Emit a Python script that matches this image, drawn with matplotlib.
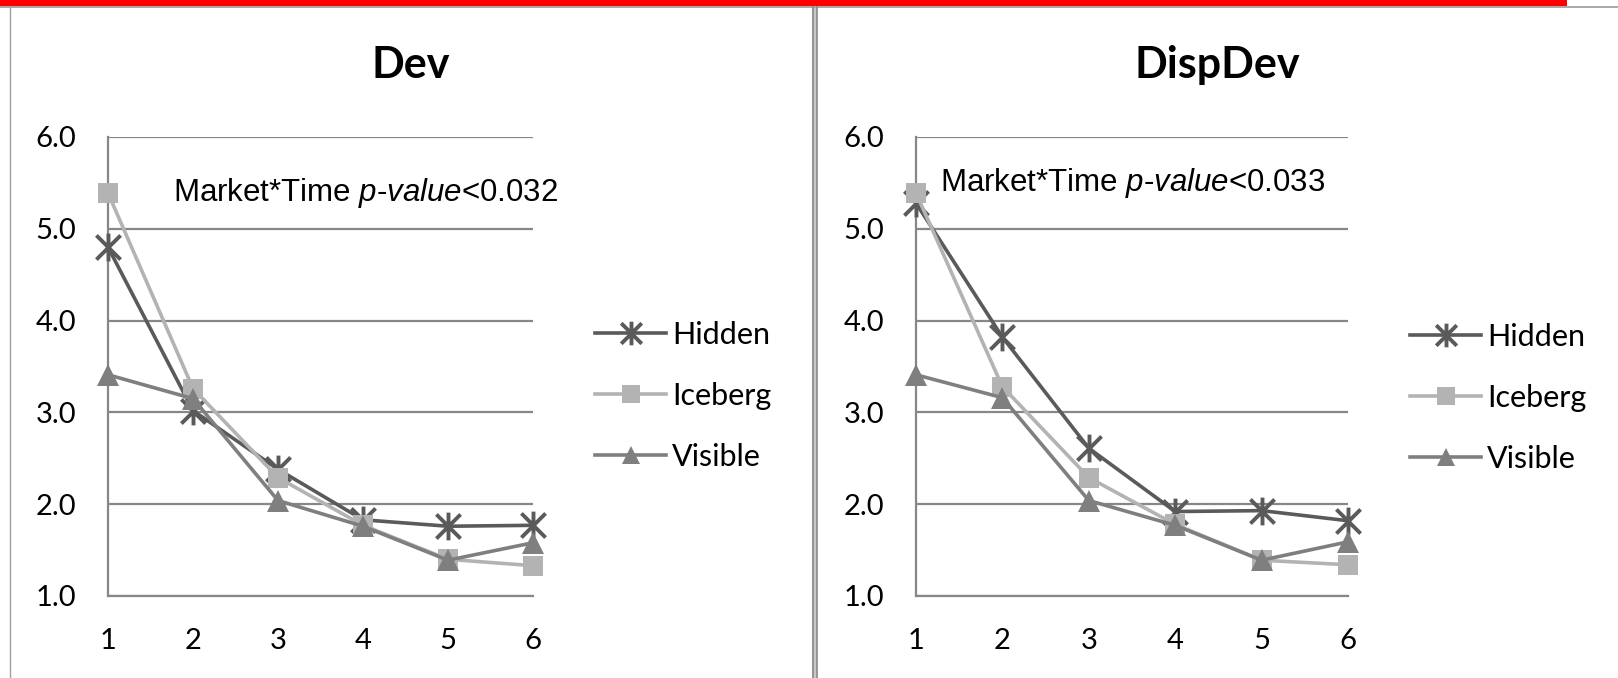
import matplotlib
matplotlib.use("Agg")
import matplotlib.pyplot as plt
from matplotlib.path import Path
from matplotlib.lines import Line2D
from matplotlib.patches import Rectangle

# ---------------- data ----------------
periods = [1, 2, 3, 4, 5, 6]
series_names = ["Hidden", "Iceberg", "Visible"]

dev_hidden = [4.80, 3.02, 2.38, 1.83, 1.76, 1.77]
dev_iceberg = [5.39, 3.26, 2.29, 1.77, 1.40, 1.33]
dev_visible = [3.41, 3.15, 2.04, 1.76, 1.39, 1.58]

disp_hidden = [5.28, 3.82, 2.61, 1.92, 1.93, 1.82]
disp_iceberg = [5.39, 3.28, 2.29, 1.78, 1.39, 1.34]
disp_visible = [3.41, 3.16, 2.04, 1.77, 1.39, 1.59]

y_ticks = [1.0, 2.0, 3.0, 4.0, 5.0, 6.0]
titles = ["Dev", "DispDev"]
p_values = ["0.032", "0.033"]

# ---------------- style ----------------
plt.rcParams["mathtext.fontset"] = "custom"
plt.rcParams["mathtext.rm"] = "Liberation Sans"
plt.rcParams["mathtext.it"] = "Liberation Sans:italic"

W, H = 1618, 678
fig = plt.figure(figsize=(W / 100, H / 100), dpi=100)
fig.patch.set_facecolor("white")

star = Path([(-1, -1), (1, 1), (-1, 1), (1, -1), (0, -1.15), (0, 1.15)],
            [Path.MOVETO, Path.LINETO, Path.MOVETO, Path.LINETO, Path.MOVETO, Path.LINETO])

styles = {
    "Hidden": dict(color="#5a5a5a", marker=star, markersize=20, markeredgewidth=2.8,
                   markerfacecolor="none", markeredgecolor="#5a5a5a"),
    "Iceberg": dict(color="#b3b3b3", marker="s", markersize=15, markeredgewidth=0,
                    markerfacecolor="#b3b3b3"),
    "Visible": dict(color="#7f7f7f", marker="^", markersize=16, markeredgewidth=0,
                    markerfacecolor="#7f7f7f"),
}
grid_color = "#878787"
tick_font = "Lato"

def px_x(x):
    return x / W

def px_y(y):
    return 1 - y / H

panels = [
    dict(rect=(108, 137, 533, 596), data=[dev_hidden, dev_iceberg, dev_visible],
         title=titles[0], title_x=411, pv=p_values[0], ann=(1.76, 5.30),
         leg=(595, 396)),
    dict(rect=(916, 137, 1348, 596), data=[disp_hidden, disp_iceberg, disp_visible],
         title=titles[1], title_x=1217, pv=p_values[1], ann=(1.28, 5.41),
         leg=(1410, 398)),
]

for p in panels:
    x0, y0, x1, y1 = p["rect"]
    ax = fig.add_axes([px_x(x0), px_y(y1), (x1 - x0) / W, (y1 - y0) / H])
    ax.set_xlim(periods[0], periods[-1])
    ax.set_ylim(y_ticks[0], y_ticks[-1])
    ax.set_yticks(y_ticks)
    ax.set_yticklabels([f"{v:.1f}" for v in y_ticks])
    ax.set_xticks(periods)
    ax.set_xticklabels([str(v) for v in periods])
    for s in ["top", "right"]:
        ax.spines[s].set_visible(False)
    for s in ["left", "bottom"]:
        ax.spines[s].set_color(grid_color)
        ax.spines[s].set_linewidth(1.6)
    ax.yaxis.grid(True, color=grid_color, linewidth=1.6)
    ax.set_axisbelow(True)
    ax.tick_params(axis="both", length=0, labelsize=21, labelcolor="black")
    ax.tick_params(axis="y", pad=23)
    ax.tick_params(axis="x", pad=23)
    for lab in ax.get_xticklabels() + ax.get_yticklabels():
        lab.set_fontfamily(tick_font)

    handles = []
    for name, vals in zip(series_names, p["data"]):
        (ln,) = ax.plot(periods, vals, linewidth=2.6, label=name, clip_on=False,
                        zorder=3, **styles[name])
        handles.append(ln)

    ax.text(p["ann"][0], p["ann"][1],
            "Market*Time $\\mathit{p}$-$\\mathit{value}$<" + p["pv"],
            fontsize=22.5, fontfamily="Liberation Sans", va="baseline", ha="left",
            color="black", zorder=5)

    fig.legend(handles=handles, loc="center left",
               bbox_to_anchor=(px_x(p["leg"][0]), px_y(p["leg"][1])),
               bbox_transform=fig.transFigure, frameon=False,
               borderpad=0, borderaxespad=0, handlelength=2.33,
               handletextpad=0.2, labelspacing=1.08, numpoints=1,
               prop=dict(family=tick_font, size=22), markerscale=0.85)

    fig.text(px_x(p["title_x"]), px_y(65), p["title"], fontsize=31,
             fontweight="bold", fontfamily=tick_font, ha="center", va="center")

# ---------------- page decorations ----------------
fig.add_artist(Rectangle((0, px_y(6)), px_x(1567), 6 / H, transform=fig.transFigure,
                         facecolor="#ff0000", edgecolor="none"))
fig.add_artist(Line2D([0, 1], [px_y(6.8), px_y(6.8)], transform=fig.transFigure,
                      color="#9a9a9a", linewidth=1.2))
fig.add_artist(Line2D([px_x(9.5), px_x(9.5)], [0, px_y(7)], transform=fig.transFigure,
                      color="#a0a0a0", linewidth=1.0))
fig.add_artist(Rectangle((px_x(811.7), 0), 5.6 / W, px_y(7), transform=fig.transFigure,
                         facecolor="#c8c8c8", edgecolor="none"))
for xx in (812.5, 816.5):
    fig.add_artist(Line2D([px_x(xx), px_x(xx)], [0, px_y(7)], transform=fig.transFigure,
                          color="#8a8a8a", linewidth=1.2))

fig.savefig("out.png", dpi=100, facecolor="white")
